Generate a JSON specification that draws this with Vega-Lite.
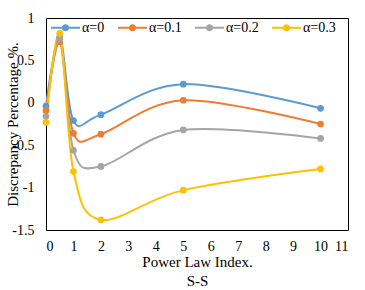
{
  "$schema": "https://vega.github.io/schema/vega-lite/v6.json",
  "width": 302,
  "height": 212,
  "autosize": {"type": "none"},
  "padding": {"left": 46, "top": 18, "right": 17, "bottom": 60},
  "background": "white",
  "config": {
    "view": {"stroke": "black", "strokeWidth": 1},
    "font": "Liberation Serif",
    "axis": {"grid": false, "domain": false, "ticks": false, "labelFont": "Liberation Serif", "titleFont": "Liberation Serif", "labelColor": "black", "titleColor": "black", "titleFontWeight": "normal"}
  },
  "data": {
    "values": [
      {"x": 0, "y": -0.04, "s": "α=0"},
      {"x": 0.5, "y": 0.77, "s": "α=0"},
      {"x": 1, "y": -0.21, "s": "α=0"},
      {"x": 2, "y": -0.14, "s": "α=0"},
      {"x": 5, "y": 0.22, "s": "α=0"},
      {"x": 10, "y": -0.065, "s": "α=0"},
      {"x": 0, "y": -0.09, "s": "α=0.1"},
      {"x": 0.5, "y": 0.72, "s": "α=0.1"},
      {"x": 1, "y": -0.36, "s": "α=0.1"},
      {"x": 2, "y": -0.37, "s": "α=0.1"},
      {"x": 5, "y": 0.03, "s": "α=0.1"},
      {"x": 10, "y": -0.25, "s": "α=0.1"},
      {"x": 0, "y": -0.16, "s": "α=0.2"},
      {"x": 0.5, "y": 0.75, "s": "α=0.2"},
      {"x": 1, "y": -0.56, "s": "α=0.2"},
      {"x": 2, "y": -0.75, "s": "α=0.2"},
      {"x": 5, "y": -0.32, "s": "α=0.2"},
      {"x": 10, "y": -0.42, "s": "α=0.2"},
      {"x": 0, "y": -0.23, "s": "α=0.3"},
      {"x": 0.5, "y": 0.82, "s": "α=0.3"},
      {"x": 1, "y": -0.81, "s": "α=0.3"},
      {"x": 2, "y": -1.38, "s": "α=0.3"},
      {"x": 5, "y": -1.03, "s": "α=0.3"},
      {"x": 10, "y": -0.78, "s": "α=0.3"}
    ]
  },
  "mark": {"type": "line", "interpolate": "cardinal", "tension": 0, "strokeWidth": 2, "point": {"filled": true, "size": 45, "opacity": 1}},
  "encoding": {
    "x": {
      "field": "x", "type": "quantitative",
      "scale": {"domain": [0, 11], "nice": false, "zero": false},
      "axis": {"values": [0,1,2,3,4,5,6,7,8,9,10,11], "labelFontSize": 14, "labelPadding": 9, "title": ["Power Law Index.", "S-S"], "titleFontSize": 15, "titlePadding": 1, "titleLineHeight": 19}
    },
    "y": {
      "field": "y", "type": "quantitative",
      "scale": {"domain": [-1.5, 1], "nice": false, "zero": false},
      "axis": {"values": [-1.5, -1, -0.5, 0, 0.5, 1], "labelExpr": "datum.value + ''", "labelFontSize": 14, "labelPadding": 12, "title": "Discrepancy Percentage %.", "titleFontSize": 15, "titleX": -26, "titleBaseline": "bottom"}
    },
    "color": {
      "field": "s", "type": "nominal",
      "scale": {"domain": ["α=0", "α=0.1", "α=0.2", "α=0.3"], "range": ["#5B9BD5", "#ED7D31", "#A5A5A5", "#FFC000"]},
      "legend": {
        "title": null, "orient": "none", "direction": "horizontal",
        "legendX": 5, "legendY": -5, "padding": 0,
        "symbolType": "M-1,-0.07H1V0.07H-1Z M-0.25,0A0.25,0.25 0 1,1 0.25,0A0.25,0.25 0 1,1 -0.25,0Z",
        "symbolSize": 840, "symbolStrokeWidth": 0, "symbolFillColor": null,
        "labelFontSize": 14, "labelFont": "Liberation Serif", "labelColor": "black", "labelOffset": 2,
        "columnPadding": 13
      }
    },
    "order": {"field": "x", "type": "quantitative"}
  }
}
